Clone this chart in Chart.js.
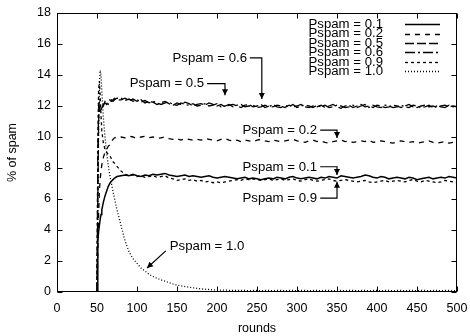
<!DOCTYPE html>
<html>
<head>
<meta charset="utf-8">
<script src="https://cdn.jsdelivr.net/npm/chart.js@4.4.1/dist/chart.umd.min.js"></script>
<style>
html,body{margin:0;padding:0;background:#fff;}
canvas{display:block;}
</style>
</head>
<body>
<canvas id="c" width="470" height="336"></canvas>
<script>
// ---- data ----
const rounds = [5,49,50,51,52,53,54,55,56,58,60,62,64,66,68,70,72,75,
80,85,90,95,100,105,110,115,120,125,130,135,140,145,150,155,160,165,170,175,
180,185,190,195,200,205,210,215,220,225,230,235,240,245,250,255,260,265,270,275,
280,285,290,295,300,305,310,315,320,325,330,335,340,345,350,355,360,365,370,375,
380,385,390,395,400,405,410,415,420,425,430,435,440,445,450,455,460,465,470,475,
480,485,490,495,500];

const seriesNames = ['Pspam = 0.1','Pspam = 0.2','Pspam = 0.5','Pspam = 0.6','Pspam = 0.9','Pspam = 1.0'];

const p01 = [0,0,0,3.2,3.9,4.3,4.7,5.0,5.3,5.8,6.2,6.5,6.8,7.0,7.15,7.25,7.35,7.45,
7.5,7.55,7.5,7.6,7.5,7.45,7.55,7.5,7.6,7.55,
7.6,7.65,7.55,7.5,7.45,7.5,7.55,7.45,7.5,7.45,
7.4,7.45,7.5,7.4,7.35,7.4,7.45,7.4,7.35,7.3,
7.35,7.4,7.3,7.35,7.3,7.25,7.3,7.35,7.3,7.4,
7.35,7.3,7.4,7.45,7.35,7.3,7.35,7.4,7.35,7.3,
7.4,7.35,7.45,7.4,7.35,7.5,7.45,7.4,7.35,7.4,
7.45,7.55,7.5,7.4,7.35,7.45,7.4,7.3,7.35,7.4,
7.35,7.3,7.4,7.35,7.25,7.3,7.35,7.4,7.3,7.35,
7.4,7.35,7.45,7.4,7.35];

const p02 = [0,0,0,2.5,5.0,6.5,7.3,7.8,8.2,8.7,9.0,9.2,9.4,9.5,9.7,9.85,9.95,10.0,
10.0,9.95,10.05,10.0,9.9,10.0,10.05,9.95,10.0,9.9,
9.95,10.0,9.9,9.85,9.9,9.8,9.9,9.85,9.8,9.85,
9.8,9.9,9.85,9.8,9.75,9.85,9.9,9.8,9.75,9.8,
9.7,9.8,9.75,9.7,9.8,9.85,9.75,9.7,9.8,9.75,
9.7,9.75,9.8,9.85,9.75,9.7,9.65,9.75,9.8,9.7,
9.75,9.65,9.6,9.7,9.75,9.8,9.7,9.75,9.65,9.7,
9.75,9.7,9.8,9.65,9.7,9.75,9.7,9.65,9.6,9.7,
9.75,9.7,9.65,9.7,9.6,9.65,9.7,9.75,9.65,9.6,
9.65,9.7,9.6,9.65,9.7];

const p05 = [0,0,0,6.0,11.0,11.9,11.7,11.8,11.9,12.1,12.2,12.1,12.3,12.4,12.3,12.4,12.5,12.4,
12.4,12.5,12.35,12.45,12.3,12.4,12.2,12.3,12.25,12.1,
12.2,12.3,12.15,12.05,12.2,12.1,12.25,12.15,12.0,12.1,
12.15,12.05,12.2,12.1,12.0,12.1,11.95,12.05,12.1,12.0,
11.9,12.05,12.1,11.95,12.0,12.1,11.9,12.0,11.95,12.05,
12.0,11.9,12.05,11.95,12.0,12.1,11.95,11.9,12.0,11.95,
12.05,11.9,12.0,12.1,11.95,11.85,12.0,12.05,11.9,12.0,
12.1,11.95,12.0,11.9,12.05,12.0,11.9,11.95,12.05,12.0,
11.9,12.0,12.1,11.95,11.9,12.0,12.05,11.95,12.0,11.9,
12.0,12.05,11.95,12.0,11.95];

const p06 = [0,0,0,8.5,12.0,12.2,11.8,11.7,11.9,12.0,12.3,12.2,12.1,12.3,12.4,12.3,12.4,12.5,
12.5,12.35,12.45,12.3,12.4,12.25,12.35,12.2,12.3,12.2,
12.1,12.2,12.25,12.1,12.05,12.2,12.1,12.05,12.15,12.0,
12.05,12.15,12.0,12.05,12.15,11.95,12.0,12.1,11.95,12.05,
12.1,11.95,12.0,12.05,11.9,11.95,12.05,11.95,12.1,11.95,
11.9,12.05,11.95,12.1,11.9,12.0,12.05,12.0,11.9,12.05,
11.95,12.05,11.9,11.95,12.05,12.0,11.9,11.95,12.05,11.9,
12.0,12.1,11.9,12.05,11.95,11.9,12.05,12.0,11.9,11.95,
12.05,11.95,11.9,12.05,12.0,11.9,11.95,12.05,11.9,12.0,
11.95,11.9,12.05,11.95,12.0];

const p09 = [0,0,0,9.0,13.0,13.6,12.6,11.4,10.4,9.6,9.2,9.0,8.9,8.8,8.6,8.4,8.3,8.1,
7.8,7.6,7.5,7.55,7.45,7.5,7.4,7.45,7.5,7.4,
7.45,7.5,7.35,7.3,7.2,7.25,7.3,7.2,7.25,7.15,
7.2,7.1,7.15,7.05,7.1,7.05,7.1,7.15,7.2,7.25,
7.2,7.3,7.25,7.3,7.25,7.2,7.25,7.3,7.2,7.25,
7.3,7.2,7.25,7.3,7.2,7.15,7.25,7.3,7.2,7.15,
7.2,7.25,7.3,7.2,7.15,7.2,7.25,7.2,7.15,7.1,
7.15,7.2,7.1,7.05,7.1,7.15,7.2,7.1,7.15,7.2,
7.15,7.1,7.2,7.25,7.15,7.1,7.2,7.15,7.1,7.05,
7.1,7.2,7.15,7.1,7.05];

const p10 = [0,0,0,5.0,10.5,13.5,14.3,14.0,13.0,11.2,10.0,9.0,8.2,7.5,7.0,6.5,6.0,5.3,
4.3,3.3,2.6,2.15,1.85,1.55,1.35,1.15,1.0,0.88,
0.78,0.7,0.6,0.52,0.45,0.4,0.35,0.31,0.27,0.24,
0.2,0.18,0.16,0.14,0.13,0.12,0.12,0.11,0.11,0.1,
0.1,0.1,0.09,0.1,0.1,0.09,0.1,0.1,0.09,0.1,
0.1,0.09,0.1,0.1,0.09,0.1,0.1,0.09,0.1,0.1,
0.09,0.1,0.1,0.09,0.1,0.1,0.09,0.1,0.1,0.09,
0.1,0.1,0.09,0.1,0.1,0.09,0.1,0.1,0.09,0.1,
0.1,0.09,0.1,0.1,0.09,0.1,0.1,0.09,0.1,0.1,
0.09,0.1,0.1,0.09,0.1];

const xTicks = [0,50,100,150,200,250,300,350,400,450,500];
const yTicks = [0,2,4,6,8,10,12,14,16,18];

// annotations: [round, %] coordinates
const noteTexts = ['Pspam = 0.6','Pspam = 0.5','Pspam = 0.2','Pspam = 0.1','Pspam = 0.9','Pspam = 1.0'];
const noteAnchors = [[237.5,15.1],[184,13.45],[325,10.45],[325,8.08],[325,6.06],[141,2.97]];
const noteAligns = ['right','right','right','right','right','left'];
const notePaths = [
  [[241,15.1],[256,15.1],[256,12.45]],
  [[187.5,13.45],[210,13.45],[210,12.7]],
  [[329,10.45],[350,10.45],[350,9.94]],
  [[329,8.08],[350,8.08],[350,7.55]],
  [[329,6.06],[350,6.06],[350,7.12]],
  [[136,2.65],[112.5,1.55]]
];

// ---- chart ----
const FONT = '"Liberation Sans", Arial, Helvetica, sans-serif';
const dashes = [[], [5,5], [9,3], [10,3,2,3], [3,3], [1,2]];
const widths = [1.5, 1.3, 1.3, 1.3, 1.3, 1.3];
const values = [p01,p02,p05,p06,p09,p10];

const datasets = values.map((vals, i) => ({
  label: seriesNames[i],
  data: rounds.map((r, k) => ({x: r, y: vals[k]})),
  borderColor: '#000',
  borderWidth: widths[i],
  borderDash: dashes[i],
  pointRadius: 0,
  tension: 0,
  fill: false
}));

function arrowHead(ctx, x1, y1, x2, y2) {
  const a = Math.atan2(y2 - y1, x2 - x1);
  const L = 6, W = 3;
  ctx.beginPath();
  ctx.moveTo(x2, y2);
  ctx.lineTo(x2 - L*Math.cos(a) + W*Math.sin(a), y2 - L*Math.sin(a) - W*Math.cos(a));
  ctx.lineTo(x2 - L*Math.cos(a) - W*Math.sin(a), y2 - L*Math.sin(a) + W*Math.cos(a));
  ctx.closePath();
  ctx.fill();
}

function wideText(ctx, t, px, py) {
  ctx.save();
  ctx.translate(px, py);
  ctx.scale(1.1, 1);
  ctx.fillText(t, 0, 0);
  ctx.restore();
}

const decor = {
  id: 'decor',
  afterDatasetsDraw(chart) {
    const {ctx, chartArea: ca, scales: {x, y}} = chart;
    ctx.save();
    ctx.strokeStyle = '#000';
    ctx.fillStyle = '#000';
    ctx.lineWidth = 1;
    ctx.setLineDash([]);
    // frame
    const L = Math.round(ca.left) + 0.5, R = Math.round(ca.right) - 0.5;
    const T = Math.round(ca.top) + 0.5, B = Math.round(ca.bottom) - 0.5;
    ctx.strokeRect(L, T, R - L, B - T);
    // inward ticks (mirrored)
    ctx.beginPath();
    xTicks.forEach(v => {
      const px = Math.round(x.getPixelForValue(v)) + 0.5;
      ctx.moveTo(px, B); ctx.lineTo(px, B - 5);
      ctx.moveTo(px, T); ctx.lineTo(px, T + 5);
    });
    yTicks.forEach(v => {
      const py = Math.round(y.getPixelForValue(v)) + 0.5;
      ctx.moveTo(L, py); ctx.lineTo(L + 5, py);
      ctx.moveTo(R, py); ctx.lineTo(R - 5, py);
    });
    ctx.stroke();

    // legend
    ctx.font = '12px ' + FONT;
    ctx.textBaseline = 'middle';
    chart.data.datasets.forEach((ds, i) => {
      const ry = 24.3 + i * 9.35;
      ctx.textAlign = 'right';
      wideText(ctx, ds.label, 383, ry + 0.5);
      ctx.save();
      ctx.lineWidth = ds.borderWidth;
      ctx.setLineDash(ds.borderDash);
      ctx.beginPath();
      ctx.moveTo(405, Math.round(ry) + 0.5);
      ctx.lineTo(440, Math.round(ry) + 0.5);
      ctx.stroke();
      ctx.restore();
    });

    // annotations
    noteTexts.forEach((t, i) => {
      const [ax, ay] = noteAnchors[i];
      ctx.textAlign = noteAligns[i];
      wideText(ctx, t, x.getPixelForValue(ax), y.getPixelForValue(ay) + 0.5);
      const pts = notePaths[i].map(([u, v]) => [x.getPixelForValue(u), y.getPixelForValue(v)]);
      ctx.beginPath();
      ctx.moveTo(pts[0][0], pts[0][1]);
      for (let k = 1; k < pts.length; k++) ctx.lineTo(pts[k][0], pts[k][1]);
      ctx.lineWidth = 1.2;
      ctx.stroke();
      const n = pts.length;
      arrowHead(ctx, pts[n-2][0], pts[n-2][1], pts[n-1][0], pts[n-1][1]);
    });
    ctx.restore();
  }
};

const tickFont = {family: FONT, size: 12.5};
new Chart(document.getElementById('c').getContext('2d'), {
  type: 'line',
  data: {datasets},
  plugins: [decor],
  options: {
    responsive: false,
    animation: false,
    devicePixelRatio: 1,
    layout: {padding: {left: 0, right: 13, top: 13, bottom: 0}},
    plugins: {legend: {display: false}, tooltip: {enabled: false}},
    scales: {
      x: {
        type: 'linear', min: 0, max: 500,
        afterBuildTicks(s) { s.ticks = xTicks.map(v => ({value: v})); },
        ticks: {color: '#000', font: tickFont, padding: 9, maxRotation: 0, autoSkip: false},
        grid: {display: false, drawTicks: false, tickLength: 0}, border: {display: false},
        title: {display: true, text: 'rounds', color: '#000', font: tickFont, padding: {top: 0, bottom: 0}},
        afterFit(s) { s.height = 44; s.paddingLeft = 0; s.paddingRight = 0; }
      },
      y: {
        type: 'linear', min: 0, max: 18,
        afterBuildTicks(s) { s.ticks = yTicks.map(v => ({value: v})); },
        ticks: {color: '#000', font: tickFont, padding: 6},
        grid: {display: false, drawTicks: false, tickLength: 0}, border: {display: false},
        title: {display: true, text: '% of spam', color: '#000', font: tickFont, padding: {top: 5, bottom: 0}},
        afterFit(s) { s.width = 57; s.paddingTop = 0; s.paddingBottom = 0; }
      }
    }
  }
});
</script>
</body>
</html>
